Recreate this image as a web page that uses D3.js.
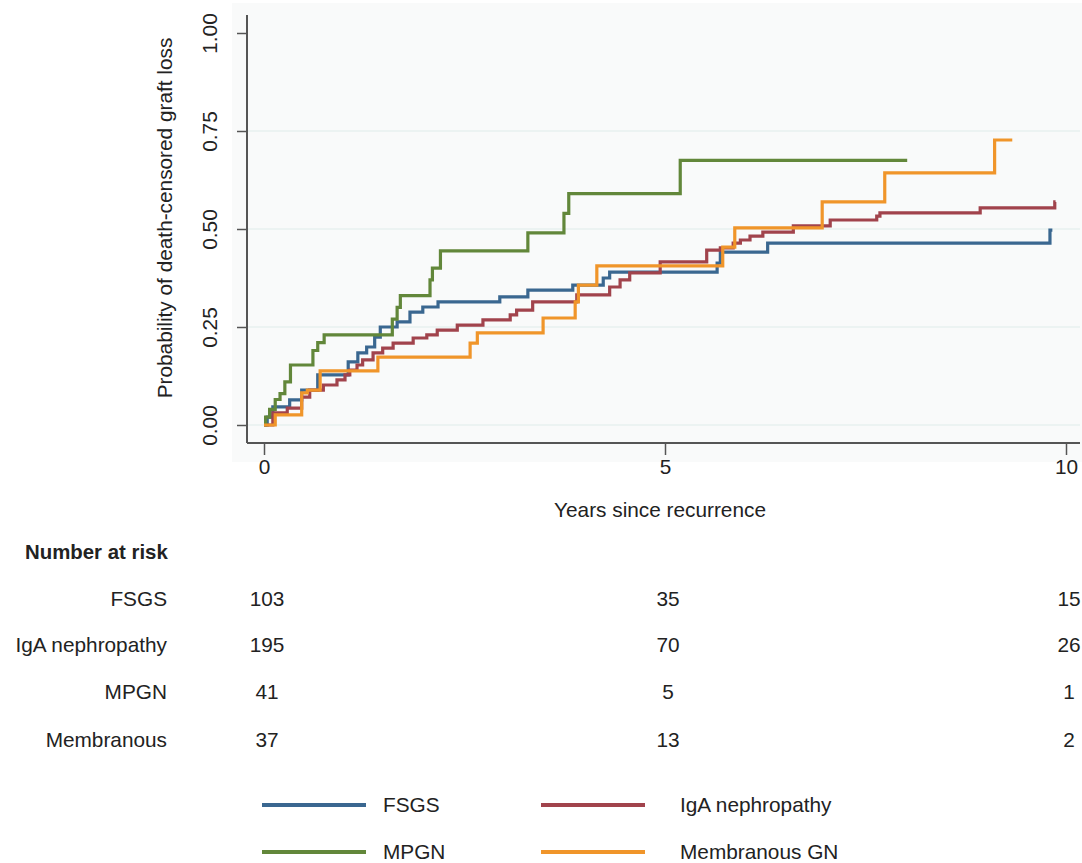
<!DOCTYPE html>
<html><head><meta charset="utf-8">
<script src="https://cdn.jsdelivr.net/npm/d3@7"></script>
<style>html,body{margin:0;padding:0;background:#fff;}svg{display:block;font-family:"Liberation Sans",Arial,sans-serif;}</style>
</head><body>
<svg id="c" width="1082" height="863"></svg>
<script>
// ---- data ----
const seriesNames = ["FSGS", "IgA nephropathy", "MPGN", "Membranous GN"];
const seriesColors = ["#3a6790", "#a1434c", "#62873a", "#f0952a"];

const fsgsT = [0, 0.04, 0.11, 0.32, 0.47, 0.67, 1.05, 1.17, 1.28, 1.38, 1.45, 1.66, 1.82, 1.98, 2.17, 2.94, 3.29, 3.85, 4.23, 4.31, 5.65, 5.69, 6.28, 9.80, 9.83];
const fsgsV = [0, 0.020, 0.046, 0.064, 0.089, 0.128, 0.161, 0.184, 0.199, 0.224, 0.250, 0.263, 0.288, 0.301, 0.314, 0.327, 0.344, 0.357, 0.375, 0.390, 0.413, 0.441, 0.464, 0.497, 0.497];

const igaT = [0, 0.11, 0.29, 0.47, 0.57, 0.74, 0.91, 1.01, 1.07, 1.16, 1.23, 1.36, 1.48, 1.61, 1.86, 2.03, 2.16, 2.41, 2.73, 3.07, 3.15, 3.35, 3.90, 4.31, 4.44, 4.56, 4.94, 5.52, 5.69, 5.85, 5.94, 6.06, 6.22, 6.60, 7.06, 7.64, 7.68, 8.93, 9.86, 9.87];
const igaV = [0, 0.031, 0.043, 0.071, 0.089, 0.102, 0.115, 0.128, 0.140, 0.153, 0.166, 0.184, 0.196, 0.209, 0.222, 0.230, 0.242, 0.255, 0.268, 0.281, 0.293, 0.314, 0.332, 0.352, 0.370, 0.388, 0.416, 0.446, 0.452, 0.464, 0.472, 0.482, 0.492, 0.508, 0.523, 0.533, 0.541, 0.554, 0.569, 0.569];

const mpgnT = [0, 0.02, 0.07, 0.14, 0.20, 0.26, 0.33, 0.61, 0.67, 0.75, 1.60, 1.66, 1.70, 2.07, 2.10, 2.20, 3.29, 3.74, 3.80, 5.19, 8.02];
const mpgnV = [0, 0.020, 0.040, 0.065, 0.080, 0.110, 0.153, 0.190, 0.210, 0.230, 0.270, 0.300, 0.330, 0.370, 0.400, 0.444, 0.490, 0.540, 0.590, 0.675, 0.675];

const membT = [0, 0.14, 0.47, 0.54, 0.70, 1.42, 2.57, 2.66, 3.48, 3.88, 3.92, 4.15, 5.72, 5.87, 6.96, 7.74, 9.11, 9.33];
const membV = [0, 0.026, 0.082, 0.089, 0.138, 0.173, 0.209, 0.235, 0.273, 0.314, 0.357, 0.406, 0.454, 0.503, 0.569, 0.643, 0.727, 0.727];

const yTicks = [0, 0.25, 0.5, 0.75, 1];
const yTickLabels = ["0.00", "0.25", "0.50", "0.75", "1.00"];
const xTicks = [0, 5, 10];

const riskLabels = ["FSGS", "IgA nephropathy", "MPGN", "Membranous"];
const riskTimes = [0, 5, 10];
const riskFsgs = [103, 35, 15];
const riskIga = [195, 70, 26];
const riskMpgn = [41, 5, 1];
const riskMemb = [37, 13, 2];

// ---- drawing ----
const svg = d3.select("#c");
const x = d3.scaleLinear().domain([0, 10]).range([264, 1066]);
const y = d3.scaleLinear().domain([0, 1]).range([425, 33]);
const axisCol = "#555";
const fs = 20.8;
const txtCol = "#222";

svg.append("rect").attr("x", 232).attr("y", 3).attr("width", 850).attr("height", 459).attr("fill", "#f9fafa");

// grid
svg.append("g").selectAll("line").data(yTicks.slice(0, 4)).join("line")
  .attr("x1", 248).attr("x2", 1080).attr("y1", d => y(d)).attr("y2", d => y(d))
  .attr("stroke", "#dfecea").attr("stroke-width", 1.2);

// y axis
const yAxis = d3.axisLeft(y).tickValues(yTicks).tickFormat((d, i) => yTickLabels[i]).tickSize(10).tickSizeOuter(0);
const gy = svg.append("g").attr("transform", "translate(247,0)").call(yAxis);
gy.select(".domain").attr("d", "M0,15V443").attr("stroke", axisCol).attr("stroke-width", 2);
gy.selectAll(".tick line").attr("stroke", axisCol).attr("stroke-width", 1.5);
gy.selectAll(".tick text").attr("font-size", fs).attr("fill", txtCol).attr("font-family", "Liberation Sans, Arial")
  .attr("text-anchor", "middle").attr("x", 0).attr("y", 0).attr("dy", "0.35em")
  .attr("transform", "translate(-37,0) rotate(-90)");

// x axis
const xAxis = d3.axisBottom(x).tickValues(xTicks).tickFormat(d3.format("d")).tickSize(12).tickSizeOuter(0);
const gx = svg.append("g").attr("transform", "translate(0,443)").call(xAxis);
gx.select(".domain").attr("d", "M247,0H1080").attr("stroke", axisCol).attr("stroke-width", 2);
gx.selectAll(".tick line").attr("stroke", axisCol).attr("stroke-width", 1.5);
gx.selectAll(".tick text").attr("font-size", fs).attr("fill", txtCol).attr("font-family", "Liberation Sans, Arial").attr("y", 16).attr("dy", "0.7em");

// axis titles
svg.append("text").attr("transform", "translate(172,218) rotate(-90)").attr("text-anchor", "middle")
  .attr("font-size", fs).attr("fill", txtCol).text("Probability of death-censored graft loss");
svg.append("text").attr("x", 660).attr("y", 517).attr("text-anchor", "middle")
  .attr("font-size", fs).attr("fill", txtCol).text("Years since recurrence");

// curves
const line = d3.line().x(d => x(d[0])).y(d => y(d[1])).curve(d3.curveStepAfter);
const curves = [[fsgsT, fsgsV], [igaT, igaV], [mpgnT, mpgnV], [membT, membV]];
[0, 1, 2, 3].forEach(i => {
  const [t, v] = curves[i];
  svg.append("path").datum(t.map((tt, k) => [tt, v[k]]))
    .attr("d", line).attr("fill", "none").attr("stroke", seriesColors[i])
    .attr("stroke-width", 3.2).attr("stroke-linejoin", "miter");
});

// number at risk
svg.append("text").attr("x", 25).attr("y", 559).attr("font-size", 20.4).attr("font-weight", "bold").attr("fill", txtCol).text("Number at risk");
const riskRows = [riskFsgs, riskIga, riskMpgn, riskMemb];
const rowY = [606, 652, 699, 747];
riskRows.forEach((row, r) => {
  svg.append("text").attr("x", 167).attr("y", rowY[r]).attr("text-anchor", "end").attr("font-size", fs).attr("fill", txtCol).text(riskLabels[r]);
  row.forEach((n, k) => {
    svg.append("text").attr("x", x(riskTimes[k]) + 3).attr("y", rowY[r]).attr("text-anchor", "middle").attr("font-size", fs).attr("fill", txtCol).text(n);
  });
});

// legend
const legPos = [[262, 805], [541, 805], [262, 852], [541, 852]];
const legText = [383, 680, 383, 680];
seriesNames.forEach((name, i) => {
  const [lx, ly] = legPos[i];
  svg.append("line").attr("x1", lx).attr("x2", lx + 104).attr("y1", ly).attr("y2", ly).attr("stroke", seriesColors[i]).attr("stroke-width", 4);
  svg.append("text").attr("x", legText[i]).attr("y", ly).attr("dy", "0.35em").attr("font-size", fs).attr("fill", txtCol).text(name);
});
</script>
</body></html>
